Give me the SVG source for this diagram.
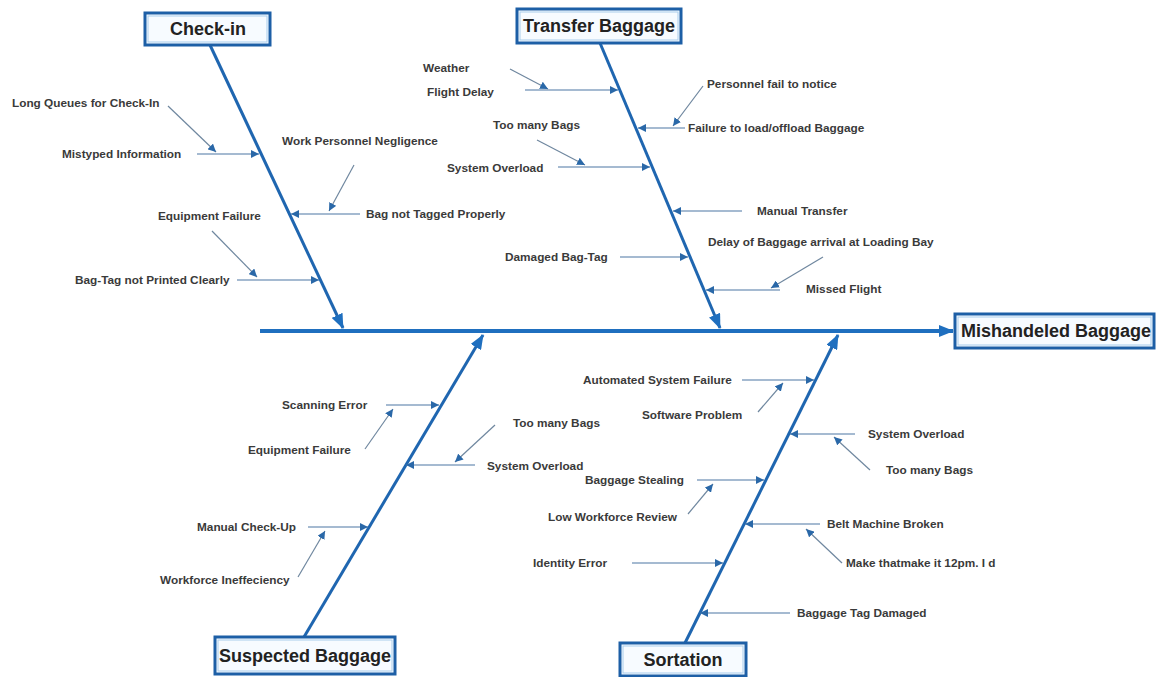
<svg xmlns="http://www.w3.org/2000/svg" width="1156" height="677" viewBox="0 0 1156 677">
  <defs>
    <marker id="bigHead" markerUnits="userSpaceOnUse" markerWidth="16" markerHeight="12" refX="14" refY="6" orient="auto">
      <path d="M0,0 L15,6 L0,12 Z" fill="#1f6fbf"/>
    </marker>
    <marker id="smallHead" markerUnits="userSpaceOnUse" markerWidth="9" markerHeight="8" refX="8" refY="4" orient="auto">
      <path d="M0,0 L8,4 L0,8 Z" fill="#2a68a8"/>
    </marker>
    <style>
      .spine { stroke: #1f6fbf; stroke-width: 4; fill: none; }
      .bone { stroke: #1f66b0; stroke-width: 3; fill: none; }
      .sub { stroke: #4c76a4; stroke-width: 1.2; fill: none; }
      .diag { stroke: #6f879f; stroke-width: 1.2; fill: none; }
      .box { fill: #f7fbff; stroke: #1d5fa6; stroke-width: 3; }
      .boxIn { fill: none; stroke: #a9cdec; stroke-width: 1; }
      .head { font-family: "Liberation Sans", Arial, sans-serif; font-weight: bold; font-size: 18px; fill: #222; text-anchor: middle; }
      .lbl { font-family: "Liberation Sans", Arial, sans-serif; font-weight: bold; font-size: 11.8px; fill: #3a3a3a; }
    </style>
  </defs>
  <rect width="1156" height="677" fill="#ffffff"/>

  <!-- spine and main bones -->
  <g id="connectors">
    <line class="spine" x1="260" y1="331" x2="953" y2="331" marker-end="url(#bigHead)"/>
    <line class="bone" x1="210" y1="45" x2="343" y2="328" marker-end="url(#bigHead)"/>
    <line class="bone" x1="600" y1="43" x2="720" y2="328" marker-end="url(#bigHead)"/>
    <line class="bone" x1="304" y1="637" x2="483" y2="335" marker-end="url(#bigHead)"/>
    <line class="bone" x1="685" y1="643" x2="838" y2="335" marker-end="url(#bigHead)"/>

    <!-- Check-in causes -->
    <line class="sub" x1="197" y1="154" x2="259" y2="154" marker-end="url(#smallHead)"/>
    <line class="diag" x1="168" y1="106" x2="216" y2="152" marker-end="url(#smallHead)"/>
    <line class="sub" x1="360" y1="214" x2="291" y2="214" marker-end="url(#smallHead)"/>
    <line class="diag" x1="354" y1="165" x2="329" y2="211" marker-end="url(#smallHead)"/>
    <line class="sub" x1="237" y1="280" x2="319" y2="280" marker-end="url(#smallHead)"/>
    <line class="diag" x1="212" y1="231" x2="257" y2="277" marker-end="url(#smallHead)"/>

    <!-- Transfer Baggage causes -->
    <line class="sub" x1="525" y1="90" x2="618" y2="90" marker-end="url(#smallHead)"/>
    <line class="diag" x1="510" y1="69" x2="548" y2="89" marker-end="url(#smallHead)"/>
    <line class="sub" x1="558" y1="167" x2="650" y2="167" marker-end="url(#smallHead)"/>
    <line class="diag" x1="537" y1="140" x2="585" y2="165" marker-end="url(#smallHead)"/>
    <line class="sub" x1="685" y1="128" x2="638" y2="128" marker-end="url(#smallHead)"/>
    <line class="diag" x1="703" y1="86" x2="673" y2="126" marker-end="url(#smallHead)"/>
    <line class="sub" x1="742" y1="211" x2="673" y2="211" marker-end="url(#smallHead)"/>
    <line class="sub" x1="620" y1="257" x2="688" y2="257" marker-end="url(#smallHead)"/>
    <line class="sub" x1="780" y1="290" x2="706" y2="290" marker-end="url(#smallHead)"/>
    <line class="diag" x1="823" y1="257" x2="771" y2="288" marker-end="url(#smallHead)"/>

    <!-- Suspected Baggage causes -->
    <line class="sub" x1="386" y1="405" x2="439" y2="405" marker-end="url(#smallHead)"/>
    <line class="diag" x1="365" y1="449" x2="393" y2="409" marker-end="url(#smallHead)"/>
    <line class="sub" x1="475" y1="465" x2="406" y2="465" marker-end="url(#smallHead)"/>
    <line class="diag" x1="495" y1="425" x2="455" y2="462" marker-end="url(#smallHead)"/>
    <line class="sub" x1="308" y1="527" x2="368" y2="527" marker-end="url(#smallHead)"/>
    <line class="diag" x1="298" y1="577" x2="325" y2="531" marker-end="url(#smallHead)"/>

    <!-- Sortation causes -->
    <line class="sub" x1="742" y1="380" x2="814" y2="380" marker-end="url(#smallHead)"/>
    <line class="diag" x1="758" y1="412" x2="783" y2="383" marker-end="url(#smallHead)"/>
    <line class="sub" x1="855" y1="434" x2="790" y2="434" marker-end="url(#smallHead)"/>
    <line class="diag" x1="870" y1="470" x2="834" y2="437" marker-end="url(#smallHead)"/>
    <line class="sub" x1="697" y1="480" x2="764" y2="480" marker-end="url(#smallHead)"/>
    <line class="diag" x1="688" y1="514" x2="713" y2="484" marker-end="url(#smallHead)"/>
    <line class="sub" x1="820" y1="524" x2="745" y2="524" marker-end="url(#smallHead)"/>
    <line class="diag" x1="842" y1="563" x2="806" y2="529" marker-end="url(#smallHead)"/>
    <line class="sub" x1="632" y1="563" x2="723" y2="563" marker-end="url(#smallHead)"/>
    <line class="sub" x1="790" y1="613" x2="700" y2="613" marker-end="url(#smallHead)"/>
  </g>

  <!-- category heads and effect -->
  <g id="check-in">
    <rect class="box" x="145" y="13" width="125" height="32"/>
    <rect class="boxIn" x="148" y="16" width="119" height="26"/>
    <text class="head" x="208" y="35">Check-in</text>
  </g>
  <g id="transfer-baggage">
    <rect class="box" x="517" y="9" width="164" height="34"/>
    <rect class="boxIn" x="520" y="12" width="158" height="28"/>
    <text class="head" x="599" y="32">Transfer Baggage</text>
  </g>
  <g id="suspected-baggage">
    <rect class="box" x="215" y="637" width="180" height="37"/>
    <rect class="boxIn" x="218" y="640" width="174" height="31"/>
    <text class="head" x="305" y="662">Suspected Baggage</text>
  </g>
  <g id="sortation">
    <rect class="box" x="620" y="643" width="126" height="33"/>
    <rect class="boxIn" x="623" y="646" width="120" height="27"/>
    <text class="head" x="683" y="666">Sortation</text>
  </g>
  <g id="mishandled-baggage">
    <rect class="box" x="955" y="314" width="199" height="34"/>
    <rect class="boxIn" x="958" y="317" width="193" height="28"/>
    <text class="head" x="1056" y="337">Mishandeled Baggage</text>
  </g>

  <!-- cause labels -->
  <g id="check-in-causes">
    <text class="lbl" x="12" y="107">Long Queues for Check-In</text>
    <text class="lbl" x="62" y="158">Mistyped Information</text>
    <text class="lbl" x="282" y="145">Work Personnel Negligence</text>
    <text class="lbl" x="366" y="218">Bag not Tagged Properly</text>
    <text class="lbl" x="158" y="220">Equipment Failure</text>
    <text class="lbl" x="75" y="284">Bag-Tag not Printed Clearly</text>
  </g>
  <g id="transfer-causes">
    <text class="lbl" x="423" y="72">Weather</text>
    <text class="lbl" x="427" y="96">Flight Delay</text>
    <text class="lbl" x="493" y="129">Too many Bags</text>
    <text class="lbl" x="447" y="172">System Overload</text>
    <text class="lbl" x="707" y="88">Personnel fail to notice</text>
    <text class="lbl" x="688" y="132">Failure to load/offload Baggage</text>
    <text class="lbl" x="757" y="215">Manual Transfer</text>
    <text class="lbl" x="708" y="246">Delay of Baggage arrival at Loading Bay</text>
    <text class="lbl" x="505" y="261">Damaged Bag-Tag</text>
    <text class="lbl" x="806" y="293">Missed Flight</text>
  </g>
  <g id="suspected-causes">
    <text class="lbl" x="282" y="409">Scanning Error</text>
    <text class="lbl" x="248" y="454">Equipment Failure</text>
    <text class="lbl" x="513" y="427">Too many Bags</text>
    <text class="lbl" x="487" y="470">System Overload</text>
    <text class="lbl" x="197" y="531">Manual Check-Up</text>
    <text class="lbl" x="160" y="584">Workforce Ineffeciency</text>
  </g>
  <g id="sortation-causes">
    <text class="lbl" x="583" y="384">Automated System Failure</text>
    <text class="lbl" x="642" y="419">Software Problem</text>
    <text class="lbl" x="868" y="438">System Overload</text>
    <text class="lbl" x="886" y="474">Too many Bags</text>
    <text class="lbl" x="585" y="484">Baggage Stealing</text>
    <text class="lbl" x="548" y="521">Low Workforce Review</text>
    <text class="lbl" x="827" y="528">Belt Machine Broken</text>
    <text class="lbl" x="846" y="567">Make thatmake it 12pm. I d</text>
    <text class="lbl" x="533" y="567">Identity Error</text>
    <text class="lbl" x="797" y="617">Baggage Tag Damaged</text>
  </g>
</svg>
